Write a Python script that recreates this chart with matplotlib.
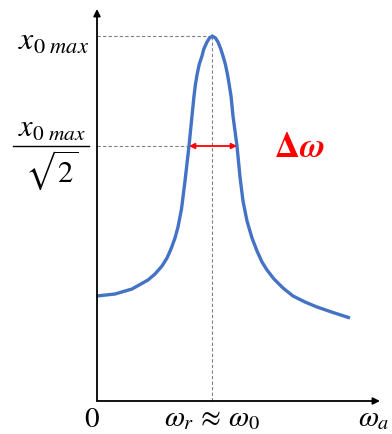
import matplotlib.pyplot as plt

plt.rcParams["mathtext.fontset"] = "stix"
plt.rcParams["font.family"] = "STIXGeneral"

# resonance curve (omega, amplitude) in arbitrary units
omega = [0, 18, 35, 51, 58, 65, 70, 74, 78, 81, 84.5, 88, 92, 95, 97, 98.5,
         100, 102.3, 105, 106.8, 110, 112.5, 115.3, 118.5, 121, 123.8, 126,
         128.3, 130.6, 132.1, 134, 136, 140, 143, 146, 150, 155, 160, 165, 170,
         177, 186, 196, 208, 220, 236, 253]
amplitude = [105, 107, 112, 121, 127, 135, 143, 152, 163, 174, 192, 220, 255,
             285, 305, 317, 326, 337, 345, 352, 359, 363, 365, 363, 359, 352,
             345, 337, 326, 317, 305, 285, 255, 224, 200, 180, 163, 150, 139,
             131, 122, 113, 105, 99, 94, 88.5, 83]

peak_omega = 115.3
peak_amp = 365
half_left, half_right = 92, 140
half_amp = 255

x_end = 283
y_end = 392

fig = plt.figure(figsize=(3.92, 4.35), dpi=100)
ax = fig.add_axes([0, 0, 1, 1])
ax.set_xlim(-97, 295)
ax.set_ylim(-33, 402)
ax.axis("off")

# axes with arrows
ax.annotate("", xy=(x_end, 0), xytext=(0, 0),
            arrowprops=dict(arrowstyle="-|>", color="black", lw=1.3,
                            mutation_scale=10, shrinkA=0, shrinkB=0))
ax.annotate("", xy=(0, y_end), xytext=(0, 0),
            arrowprops=dict(arrowstyle="-|>", color="black", lw=1.3,
                            mutation_scale=10, shrinkA=0, shrinkB=0))

# guide lines
ax.plot([0, peak_omega], [peak_amp, peak_amp], ls=(0, (3, 2)), color="gray", lw=0.8)
ax.plot([0, half_left], [half_amp, half_amp], ls=(0, (3, 2)), color="gray", lw=0.8)
ax.plot([peak_omega, peak_omega], [0, peak_amp], ls=(0, (3, 2)), color="gray", lw=0.8)

ax.plot(omega, amplitude, color="#4472C4", lw=2.4, solid_capstyle="butt",
        solid_joinstyle="round")

# bandwidth arrow
ax.annotate("", xy=(half_left, half_amp), xytext=(half_right, half_amp),
            arrowprops=dict(arrowstyle="<|-|>", color="red", lw=1.3,
                            mutation_scale=8, shrinkA=0, shrinkB=0))
ax.text(177, half_amp - 2, r"$\mathbf{\Delta}\boldsymbol{\omega}$", color="red",
        fontsize=25, va="center", ha="left")

# labels
ax.text(-8, peak_amp - 5, r"$x_{0\ max}$", fontsize=23, ha="right", va="center")
ax.text(-45, half_amp + 17, r"$x_{0\ max}$", fontsize=22, ha="center", va="center")
ax.plot([-84, -8], [half_amp, half_amp], color="black", lw=1.0)
ax.text(-45, half_amp - 23, r"$\sqrt{2}$", fontsize=22, ha="center", va="center")

ax.text(-5, -18, "0", fontsize=21, ha="center", va="center")
ax.text(peak_omega, -18, r"$\omega_r\,\approx\,\omega_0$", fontsize=21,
        ha="center", va="center")
ax.text(277, -18, r"$\omega_a$", fontsize=21, ha="center", va="center")

fig.savefig("out.png", dpi=100)
